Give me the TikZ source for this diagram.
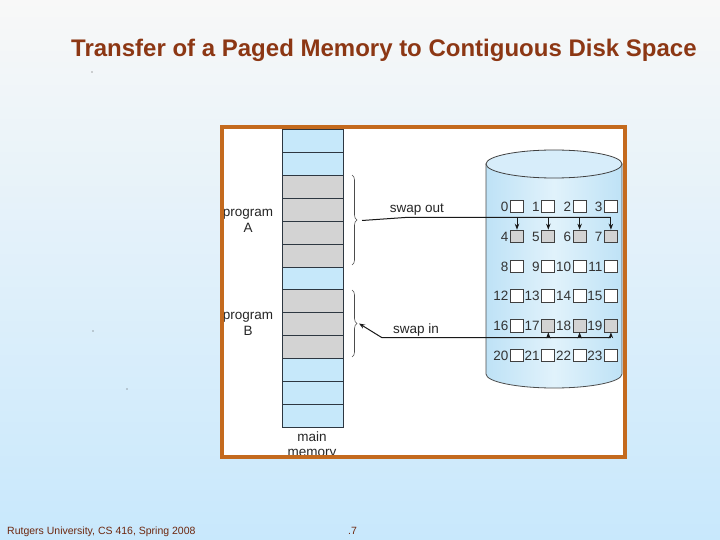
\documentclass[tikz,border=0pt]{standalone}
\usepackage{fontspec}
\setmainfont{Liberation Sans}
\usetikzlibrary{arrows.meta,decorations.pathreplacing,calc}
\definecolor{bgtop}{RGB}{248,248,248}
\definecolor{bgbot}{RGB}{200,232,252}
\definecolor{framec}{RGB}{196,106,30}
\definecolor{memblue}{RGB}{198,232,250}
\definecolor{memgrey}{RGB}{211,211,211}
\definecolor{linec}{RGB}{45,55,65}
\definecolor{titlec}{RGB}{140,55,20}
\definecolor{footc}{RGB}{110,40,15}
\definecolor{diskl}{RGB}{190,226,246}
\definecolor{diskm}{RGB}{225,242,251}
\tikzset{
  memrow/.style={rectangle, draw=linec, line width=0.7pt, inner sep=0pt, minimum width=61pt, minimum height=22.92pt, anchor=north west},
  lab/.style={font=\fontsize{13.5}{15}\selectfont, inner sep=0pt, text=black!85},
  blk/.style={rectangle, draw=black!75, line width=0.7pt, inner sep=0pt, minimum width=13pt, minimum height=12.5pt},
  numlab/.style={font=\fontsize{13.5}{15}\selectfont, inner sep=0pt, anchor=east, text=black!80},
  bracestyle/.style={decorate, decoration={brace, amplitude=5pt}, draw=black!70, line width=0.6pt},
  conn/.style={draw=black!90, line width=1pt},
  tip/.style={-{Stealth[length=6pt,width=4.5pt]}}
}
\begin{document}
\begin{tikzpicture}[x=1pt,y=-1pt]
\shade[top color=bgtop,bottom color=bgbot] (0,0) rectangle (720,540);
\useasboundingbox (0,0) rectangle (720,540);

% title
\node[anchor=base west, font=\bfseries\fontsize{24}{28}\selectfont, text=titlec, inner sep=0pt] (title) at (71,57) {Transfer of a Paged Memory to Contiguous Disk Space};

% stray dots
\fill[black!70] (92,72) circle (0.6);
\fill[black!70] (93,331) circle (0.6);
\fill[black!70] (127,389) circle (0.7);

% frame interior
\fill[white] (222,127) rectangle (625,457);

\begin{scope}
\clip (222,127) rectangle (625,457);
% memory column
\foreach \i/\c in {0/memblue,1/memblue,2/memgrey,3/memgrey,4/memgrey,5/memgrey,6/memblue,7/memgrey,8/memgrey,9/memgrey,10/memblue,11/memblue,12/memblue}{
  \node[memrow, fill=\c] (m\i) at (282,{129+22.92*\i}) {};
}
\node[lab, align=center] (pa) at (248,221) {program\\[0.5pt]A};
\node[lab, align=center] (pb) at (248,324) {program\\[0.5pt]B};
\node[lab, align=center, anchor=north] (mm) at (312,432) {main\\[0pt]memory};
\end{scope}

% braces
\draw[bracestyle] (352,175) -- (352,265);
\draw[bracestyle] (352,290) -- (352,357);
\coordinate (ta) at (362,220.5);
\coordinate (tb) at (359,323.5);

% disk cylinder
\shade[left color=diskl, right color=diskl, middle color=diskm, draw=black!70, line width=0.8pt]
  (486,164) -- (486,374) arc[start angle=180, end angle=360, x radius=68pt, y radius=14pt] -- (622,164) -- cycle;
\draw[draw=black!75, line width=0.8pt, fill=diskm!70!diskl] (554,164) ellipse[x radius=68pt, y radius=14pt];

% blocks
\foreach \r in {0,...,5}{
  \foreach \c in {0,...,3}{
    \pgfmathtruncatemacro{\n}{4*\r+\c}
    \ifnum\n=4 \def\fc{memgrey}\else\ifnum\n=5 \def\fc{memgrey}\else\ifnum\n=6 \def\fc{memgrey}\else\ifnum\n=7 \def\fc{memgrey}\else
    \ifnum\n=17 \def\fc{memgrey}\else\ifnum\n=18 \def\fc{memgrey}\else\ifnum\n=19 \def\fc{memgrey}\else\def\fc{white}\fi\fi\fi\fi\fi\fi\fi
    \node[blk, fill=\fc] (b\n) at ({517+31.3*\c},{206.5+29.8*\r}) {};
    \node[numlab] (l\n) at ($(b\n.west)+(-1.5,0.3)$) {\n};
  }
}

% swap out
\node[lab, anchor=base] (so) at (417,212) {swap out};
\coordinate (sa) at (405,217.5);
\draw[conn] (ta) -- (sa) -- (sa -| b7);
\foreach \k in {4,5,6,7}{
  \draw[conn, tip] (sa -| b\k) -- (b\k.north);
}

% swap in
\node[lab, anchor=base] (si) at (416,333) {swap in};
\coordinate (sb) at (382,337.7);
\draw[conn, tip] (sb -| b19) -- (sb) -- (tb);
\foreach \k in {17,18,19}{
  \draw[conn, tip] (sb -| b\k) -- (b\k.south);
}

% frame
\draw[framec, line width=3.6pt] (222,127) rectangle (625,457);

% footer
\node[anchor=base west, font=\fontsize{10.5}{12}\selectfont, text=footc, inner sep=0pt] (foot) at (7,534) {Rutgers University, CS 416, Spring 2008};
\node[anchor=base west, font=\fontsize{10.5}{12}\selectfont, text=footc, inner sep=0pt] (pg) at (348,534) {.7};
\end{tikzpicture}
\end{document}
